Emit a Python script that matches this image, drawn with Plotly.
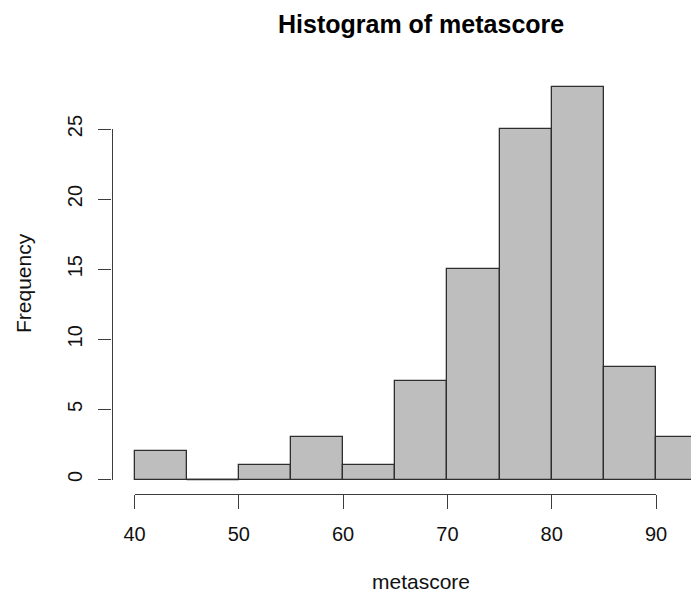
import plotly.graph_objects as go

# Data
bin_starts = [40, 45, 50, 55, 60, 65, 70, 75, 80, 85, 90]
bin_width = 5
counts = [2, 0, 1, 3, 1, 7, 15, 25, 28, 8, 3]
x_ticks = [40, 50, 60, 70, 80, 90]
y_ticks = [0, 5, 10, 15, 20, 25]
title_text = "Histogram of metascore"
x_label = "metascore"
y_label = "Frequency"

# the page body adds an 8px margin; size the figure so nothing overflows
OFF = 8
W, H = 699 - 2 * OFF, 601 - 2 * OFF
FONT = "Liberation Sans, Arial, Helvetica, sans-serif"
TXT = "#111111"
AX = "#3c3c3c"


def fx(px):  # screen x pixel -> paper fraction
    return (px - OFF) / W


def fy(py):  # screen y pixel -> paper fraction
    return 1 - (py - OFF) / H


# target pixel calibration (screen coords)
px40, px90 = 134.5, 656.0
sx = (px90 - px40) / 50.0
py0, py25 = 479.5, 129.0
sy = (py0 - py25) / 25.0

xr = [40 - (px40 - OFF) / sx, 40 + (OFF + W - px40) / sx]
yr = [-(OFF + H - py0) / sy, (py0 - OFF) / sy]

fig = go.Figure()
fig.add_trace(go.Bar(
    x=bin_starts, y=counts, width=[bin_width] * len(bin_starts), offset=0,
    marker=dict(color="#bebebe", line=dict(color="#2e2e2e", width=1.3)),
    xaxis="x", yaxis="y", hoverinfo="skip", showlegend=False,
))
# empty bins still show their zero-height outline in R
for s, c in zip(bin_starts, counts):
    if c == 0:
        fig.add_trace(go.Scatter(x=[s, s + bin_width], y=[c, c], mode="lines",
                                 line=dict(color="#2e2e2e", width=1.3),
                                 xaxis="x", yaxis="y", hoverinfo="skip", showlegend=False))
# invisible anchor traces for the R-style offset axes
fig.add_trace(go.Scatter(x=x_ticks, y=[0] * len(x_ticks), xaxis="x2", yaxis="y",
                         mode="markers", marker=dict(opacity=0), showlegend=False, hoverinfo="skip"))
fig.add_trace(go.Scatter(x=[40] * len(y_ticks), y=y_ticks, xaxis="x", yaxis="y2",
                         mode="markers", marker=dict(opacity=0), showlegend=False, hoverinfo="skip"))

fig.update_layout(
    width=W, height=H,
    margin=dict(l=0, r=0, t=0, b=0, pad=0, autoexpand=False),
    paper_bgcolor="white", plot_bgcolor="rgba(0,0,0,0)",
    font=dict(family=FONT, color=TXT, size=20),
    bargap=0,
    xaxis=dict(domain=[0, 1], range=xr, visible=False, fixedrange=True, automargin=False),
    yaxis=dict(domain=[0, 1], range=yr, visible=False, fixedrange=True, automargin=False),
    xaxis2=dict(domain=[fx(px40), fx(px90)], range=[40, 90], anchor="free",
                position=fy(494.0), showline=True, linecolor=AX, linewidth=1.2,
                ticks="outside", ticklen=14, tickcolor=AX, tickwidth=1.2,
                ticklabelstandoff=8,
                tickvals=x_ticks, ticktext=[str(v) for v in x_ticks],
                showgrid=False, zeroline=False, automargin=False, fixedrange=True,
                tickfont=dict(size=20, color=TXT, family=FONT)),
    yaxis2=dict(domain=[fy(py0), fy(py25)], range=[0, 25], anchor="free",
                position=fx(111.5), showline=True, linecolor=AX, linewidth=1.2,
                ticks="outside", ticklen=13, tickcolor=AX, tickwidth=1.2,
                ticklabelstandoff=8,
                tickvals=y_ticks, ticktext=[str(v) for v in y_ticks], tickangle=-90,
                showgrid=False, zeroline=False, automargin=False, fixedrange=True,
                tickfont=dict(size=20, color=TXT, family=FONT)),
    annotations=[
        dict(text="<b>" + title_text + "</b>", x=fx(421), y=fy(24.0), xref="paper", yref="paper",
             xanchor="center", yanchor="middle", showarrow=False, font=dict(size=25, color="#000")),
        dict(text=x_label, x=fx(421), y=fy(581.0), xref="paper", yref="paper",
             xanchor="center", yanchor="middle", showarrow=False, font=dict(size=21)),
        dict(text=y_label, x=fx(23), y=fy(283.0), xref="paper", yref="paper",
             xanchor="center", yanchor="middle", showarrow=False, textangle=-90, font=dict(size=21)),
    ],
)

fig.write_html("out.html")
